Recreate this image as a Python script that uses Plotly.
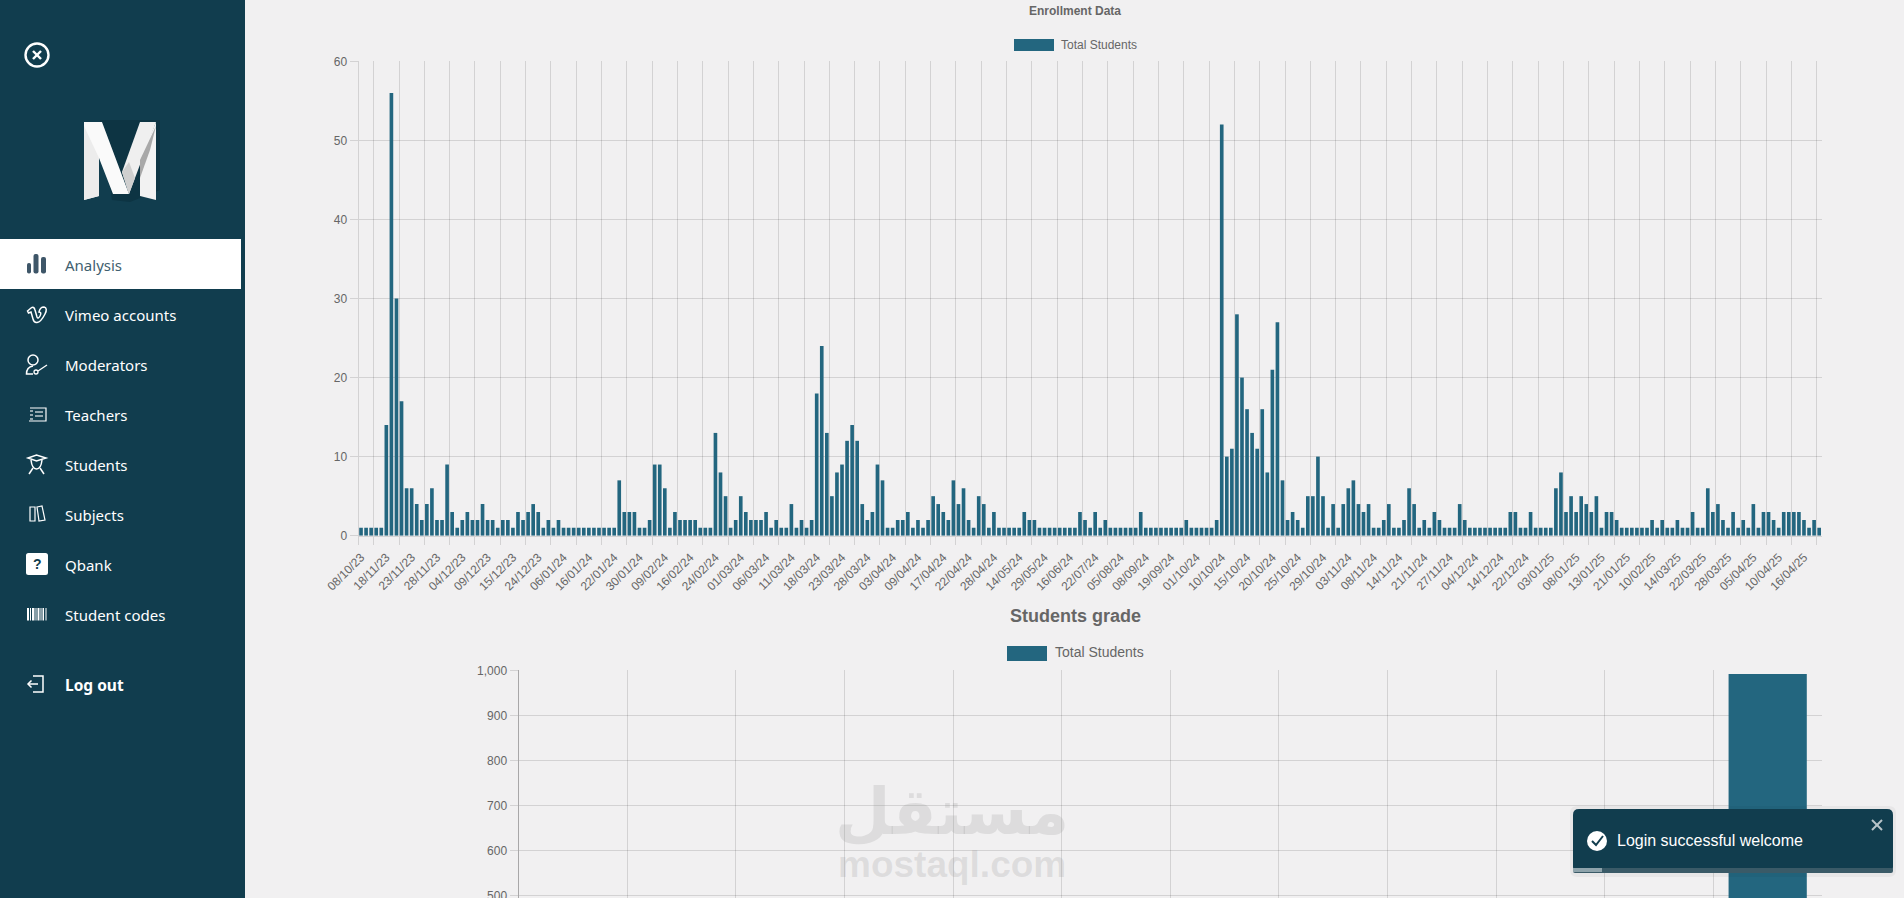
import plotly.graph_objects as go

W, H = 1904, 898

# -------------------------------
# Data
# -------------------------------
enrollment_values = [
    1, 1, 1, 1, 1, 14, 56, 30, 17, 6, 6, 4, 2, 4, 6, 2, 2, 9, 3, 1,
    2, 3, 2, 2, 4, 2, 2, 1, 2, 2, 1, 3, 2, 3, 4, 3, 1, 2, 1, 2,
    1, 1, 1, 1, 1, 1, 1, 1, 1, 1, 1, 7, 3, 3, 3, 1, 1, 2, 9, 9,
    6, 1, 3, 2, 2, 2, 2, 1, 1, 1, 13, 8, 5, 1, 2, 5, 3, 2, 2, 2,
    3, 1, 2, 1, 1, 4, 1, 2, 1, 2, 18, 24, 13, 5, 8, 9, 12, 14, 12, 4,
    2, 3, 9, 7, 1, 1, 2, 2, 3, 1, 2, 1, 2, 5, 4, 3, 2, 7, 4, 6,
    2, 1, 5, 4, 1, 3, 1, 1, 1, 1, 1, 3, 2, 2, 1, 1, 1, 1, 1, 1,
    1, 1, 3, 2, 1, 3, 1, 2, 1, 1, 1, 1, 1, 1, 3, 1, 1, 1, 1, 1,
    1, 1, 1, 2, 1, 1, 1, 1, 1, 2, 52, 10, 11, 28, 20, 16, 13, 11, 16, 8,
    21, 27, 7, 2, 3, 2, 1, 5, 5, 10, 5, 1, 4, 1, 4, 6, 7, 4, 3, 4,
    1, 1, 2, 4, 1, 1, 2, 6, 4, 1, 2, 1, 3, 2, 1, 1, 1, 4, 2, 1,
    1, 1, 1, 1, 1, 1, 1, 3, 3, 1, 1, 3, 1, 1, 1, 1, 6, 8, 3, 5,
    3, 5, 4, 3, 5, 1, 3, 3, 2, 1, 1, 1, 1, 1, 1, 2, 1, 2, 1, 1,
    2, 1, 1, 3, 1, 1, 6, 3, 4, 2, 1, 3, 1, 2, 1, 4, 1, 3, 3, 2,
    1, 3, 3, 3, 3, 2, 1, 2, 1,
]
enrollment_labels = [
    "08/10/23", "18/11/23", "23/11/23", "28/11/23", "04/12/23", "09/12/23",
    "15/12/23", "24/12/23", "06/01/24", "16/01/24", "22/01/24", "30/01/24",
    "09/02/24", "16/02/24", "24/02/24", "01/03/24", "06/03/24", "11/03/24",
    "18/03/24", "23/03/24", "28/03/24", "03/04/24", "09/04/24", "17/04/24",
    "22/04/24", "28/04/24", "14/05/24", "29/05/24", "16/06/24", "22/07/24",
    "05/08/24", "08/09/24", "19/09/24", "01/10/24", "10/10/24", "15/10/24",
    "20/10/24", "25/10/24", "29/10/24", "03/11/24", "08/11/24", "14/11/24",
    "21/11/24", "27/11/24", "04/12/24", "14/12/24", "22/12/24", "03/01/25",
    "08/01/25", "13/01/25", "21/01/25", "10/02/25", "14/03/25", "22/03/25",
    "28/03/25", "05/04/25", "10/04/25", "16/04/25",
]
# only the last grade bar reaches the visible part of the page
grade_values = [0, 0, 0, 0, 0, 0, 0, 0, 0, 0, 0, 992]

menu_items = ["Vimeo accounts", "Moderators", "Teachers", "Students",
              "Subjects", "Qbank", "Student codes"]

# -------------------------------
# Colours
# -------------------------------
BG = "#f1f0f1"
NAVY = "#113d4e"
BAR = "#23667f"
GRID = "rgba(0,0,0,0.12)"
TXT = "#666666"
FONT = "Liberation Sans"
MENU_FONT = "Noto Sans"


def px_x(x):
    return x / W


def px_y(y):
    return 1 - y / H


shapes = []
notes = []


def rect(x0, y0, x1, y1, fill, opacity=1):
    shapes.append(dict(type="rect", xref="paper", yref="paper", x0=px_x(x0), x1=px_x(x1),
                       y0=px_y(y0), y1=px_y(y1), fillcolor=fill, opacity=opacity,
                       line=dict(width=0), layer="above"))


def circle(cx, cy, r, fill="rgba(0,0,0,0)", line="white", lw=2):
    shapes.append(dict(type="circle", xref="paper", yref="paper", x0=px_x(cx - r), x1=px_x(cx + r),
                       y0=px_y(cy - r), y1=px_y(cy + r), fillcolor=fill,
                       line=dict(color=line, width=lw), layer="above"))


def path(cmds, fill=None, line="white", lw=1.6):
    # cmds is a list like ("M", x, y) / ("L", x, y) / ("Q", cx, cy, x, y) / ("Z",)
    parts = []
    for c in cmds:
        nums = c[1:]
        coords = []
        for i in range(0, len(nums), 2):
            coords += [str(round(px_x(nums[i]), 6)), str(round(px_y(nums[i + 1]), 6))]
        parts.append(c[0] + " " + " ".join(coords))
    shapes.append(dict(type="path", xref="paper", yref="paper", path=" ".join(parts),
                       fillcolor=fill if fill else "rgba(0,0,0,0)",
                       line=dict(color=line if line else "rgba(0,0,0,0)", width=lw if line else 0),
                       layer="above"))


def round_rect(x0, y0, x1, y1, r, fill):
    path([("M", x0 + r, y0), ("L", x1 - r, y0), ("Q", x1, y0, x1, y0 + r), ("L", x1, y1 - r),
          ("Q", x1, y1, x1 - r, y1), ("L", x0 + r, y1), ("Q", x0, y1, x0, y1 - r),
          ("L", x0, y0 + r), ("Q", x0, y0, x0 + r, y0), ("Z",)], fill=fill, line=None)


def text(x, y, s, size, color, family=FONT, anchor="left"):
    notes.append(dict(xref="paper", yref="paper", x=px_x(x), y=px_y(y), text=s, showarrow=False,
                      xanchor=anchor, yanchor="middle", align=anchor,
                      font=dict(family=family, size=size, color=color)))


# -------------------------------
# Charts
# -------------------------------
fig = go.Figure()

fig.add_trace(go.Bar(
    x=list(range(len(enrollment_values))),
    y=enrollment_values,
    marker=dict(color=BAR, line=dict(width=0)),
    width=0.72,
    xaxis="x",
    yaxis="y",
    showlegend=False,
))

fig.add_trace(go.Bar(
    x=list(range(len(grade_values))),
    y=grade_values,
    marker=dict(color=BAR, line=dict(width=0)),
    width=0.72,
    xaxis="x2",
    yaxis="y2",
    showlegend=False,
))

# -------------------------------
# Sidebar
# -------------------------------
rect(0, 0, 245, H, NAVY)
rect(0, 239, 241, 289, "white")

# close button
circle(37, 55, 11.5, lw=2.4)
path([("M", 33, 51), ("L", 41, 59)], lw=2.4)
path([("M", 41, 51), ("L", 33, 59)], lw=2.4)

# logo
path([("M", 100, 120), ("L", 160, 120), ("L", 160, 190), ("L", 130, 202), ("L", 112, 200), ("Z",)],
     fill="#0d3443", line=None)
path([("M", 84, 122), ("L", 102, 122), ("L", 129, 194), ("L", 113, 194), ("L", 99, 158),
      ("L", 99, 196), ("L", 84, 200), ("Z",)], fill="#fafafa", line=None)
path([("M", 84, 126), ("L", 99, 158), ("L", 99, 196), ("L", 84, 200), ("Z",)], fill="#ececec", line=None)
path([("M", 156, 122), ("L", 129, 194), ("L", 122, 172), ("L", 140, 122), ("Z",)], fill="#efefef", line=None)
path([("M", 122, 172), ("L", 129, 194), ("L", 135, 178), ("L", 129, 162), ("Z",)], fill="#cfcfcf", line=None)
path([("M", 156, 122), ("L", 156, 200), ("L", 140, 196), ("L", 140, 160), ("Z",)], fill="#f2f2f2", line=None)
path([("M", 156, 126), ("L", 140, 160), ("L", 140, 178), ("L", 150, 150), ("Z",)], fill="#a8a8a8", line=None)

# menu
text(63, 265, "Analysis", 15, "#3f5f70", MENU_FONT)
for i, item in enumerate(menu_items):
    text(63, 315 + i * 50, item, 15, "white", MENU_FONT)
text(63, 685, "<b>Log out</b>", 15.5, "white", MENU_FONT)

# analysis icon
round_rect(27, 263, 31, 273.5, 1.8, "#3e5668")
round_rect(33.5, 254, 38.5, 273.5, 2, "#3e5668")
round_rect(41, 257, 46, 273.5, 2, "#3e5668")

# vimeo icon
path([("M", 27.5, 311), ("L", 31, 308), ("Q", 34, 306, 35, 310), ("L", 37, 317), ("Q", 38, 319.5, 40, 316),
      ("Q", 42, 312, 39, 312), ("Q", 40, 307, 44, 307), ("Q", 48, 308, 45, 314), ("Q", 41, 322, 37, 322.5),
      ("Q", 34, 323, 33, 319), ("L", 31, 312), ("L", 28.5, 313), ("Z",)], lw=1.5)

# moderators icon
circle(33, 360, 5, lw=1.5)
path([("M", 33, 374), ("L", 26.5, 374), ("Q", 26.5, 367, 33, 366)], lw=1.5)
circle(36, 372, 2, lw=1.3)
path([("M", 38, 371), ("L", 47, 365)], lw=1.3)

# teachers icon
path([("M", 30, 408), ("L", 46, 408), ("L", 46, 421), ("L", 29, 421)], lw=1.2)
path([("M", 35, 412), ("L", 43, 412)], lw=1.1)
path([("M", 35, 416), ("L", 43, 416)], lw=1.1)
path([("M", 30, 411), ("L", 33, 411)], lw=1.1)
path([("M", 30, 415), ("L", 33, 415)], lw=1.1)
path([("M", 30, 419), ("L", 33, 419)], lw=1.1)

# students icon
path([("M", 28, 458), ("L", 36.5, 455), ("L", 46, 458), ("L", 36.5, 461), ("Z",)], lw=1.5)
path([("M", 31, 460), ("Q", 32, 469, 36.5, 469), ("Q", 41, 469, 42, 460)], lw=1.5)
path([("M", 29, 474), ("L", 33, 468)], lw=1.5)
path([("M", 44, 474), ("L", 40, 468)], lw=1.5)

# subjects icon
path([("M", 30, 507), ("L", 35, 507), ("L", 35, 521), ("L", 30, 521), ("Z",)], lw=1.2)
path([("M", 37, 507), ("L", 42, 506), ("L", 45, 520), ("L", 39, 521), ("Z",)], lw=1.2)

# qbank icon
round_rect(26, 553, 48, 575, 2.5, "white")
text(37, 564, "<b>?</b>", 14, NAVY, anchor="center")

# student codes icon
for bx, bw in [(27, 2), (30, 1), (32, 2.5), (35.5, 1), (37.5, 2), (40.5, 1), (42.5, 1.5), (45.5, 1)]:
    rect(bx, 608, bx + bw, 620.5, "white")

# log out icon
path([("M", 33, 676), ("L", 43, 676), ("L", 43, 692), ("L", 33, 692)], lw=1.5)
path([("M", 28, 684), ("L", 38, 684)], lw=1.5)
path([("M", 31.5, 680.5), ("L", 28, 684), ("L", 31.5, 687.5)], lw=1.5)

# -------------------------------
# Chart titles and legends
# -------------------------------
text(1075, 11, "<b>Enrollment Data</b>", 12, TXT, anchor="center")
rect(1014, 39, 1054, 51, BAR)
text(1059, 45, "Total Students", 12, TXT)

text(1075, 616, "<b>Students grade</b>", 18, TXT, anchor="center")
rect(1007, 646, 1047, 661, BAR)
text(1053, 652, "Total Students", 14, TXT)

# -------------------------------
# Watermark
# -------------------------------
text(952, 812, "<b>مستقل</b>", 64, "rgba(150,150,150,0.22)", "DejaVu Sans", anchor="center")
text(952, 864, "<b>mostaql.com</b>", 37, "rgba(150,150,150,0.22)", anchor="center")

# -------------------------------
# Toast
# -------------------------------
round_rect(1570, 806, 1896, 877, 7, "rgba(0,0,0,0.04)")
round_rect(1573, 809, 1893, 873, 6, NAVY)
round_rect(1573, 868, 1893, 873, 2, "#3a5a67")
rect(1573, 868, 1602, 872, "#8ea3ab")
circle(1597, 841, 10, fill="white", line="white", lw=0)
path([("M", 1592, 841), ("L", 1596, 845), ("L", 1603, 836)], line=NAVY, lw=2)
text(1615, 840, "Login successful welcome", 16, "white")
path([("M", 1872, 820), ("L", 1882, 830)], line="#b8c4c9", lw=2)
path([("M", 1882, 820), ("L", 1872, 830)], line="#b8c4c9", lw=2)

# -------------------------------
# Layout
# -------------------------------
tick_font = dict(family=FONT, size=12, color=TXT)

fig.update_layout(
    width=W,
    height=H,
    margin=dict(l=0, r=0, t=0, b=0, pad=0, autoexpand=False),
    paper_bgcolor=BG,
    plot_bgcolor=BG,
    bargap=0.28,
    hovermode=False,
    shapes=shapes,
    annotations=notes,
    xaxis=dict(
        domain=[px_x(358.5), px_x(1821.7)],
        range=[-0.5, len(enrollment_values) - 0.5],
        anchor="y",
        tickmode="array",
        tickvals=[i * 5 for i in range(len(enrollment_labels))],
        ticktext=enrollment_labels,
        tickangle=-45,
        ticks="outside",
        ticklen=9,
        tickcolor="rgba(0,0,0,0)",
        tickfont=tick_font,
        showgrid=False,
        zeroline=False,
        showline=True,
        linecolor=GRID,
        minor=dict(
            tickmode="array",
            tickvals=[-0.5] + [2.5 + i * 5 for i in range(len(enrollment_labels))],
            showgrid=True,
            gridcolor=GRID,
            gridwidth=1,
            ticks="outside",
            ticklen=8,
            tickcolor=GRID,
        ),
    ),
    yaxis=dict(
        domain=[px_y(535.7), px_y(61.3)],
        range=[0, 60],
        anchor="x",
        dtick=10,
        ticks="outside",
        ticklen=8,
        tickcolor=GRID,
        tickfont=tick_font,
        gridcolor=GRID,
        zeroline=False,
        showline=True,
        linecolor=GRID,
    ),
    xaxis2=dict(
        domain=[px_x(518.5), px_x(1822)],
        range=[-0.5, len(grade_values) - 0.5],
        anchor="y2",
        tickmode="array",
        tickvals=[i - 0.5 for i in range(len(grade_values))],
        showticklabels=False,
        ticks="",
        showgrid=True,
        gridcolor=GRID,
        zeroline=False,
    ),
    yaxis2=dict(
        domain=[0, px_y(670.3)],
        range=[494, 1000],
        anchor="x2",
        dtick=100,
        tickformat=",",
        ticks="outside",
        ticklen=8,
        tickcolor=GRID,
        tickfont=tick_font,
        ticklabeloverflow="allow",
        gridcolor=GRID,
        zeroline=False,
        showline=True,
        linecolor="rgba(0,0,0,0.3)",
    ),
)

fig.write_html("out.html", config={"displayModeBar": False},
               post_script="document.body.style.margin='0';document.body.style.overflow='hidden';")
